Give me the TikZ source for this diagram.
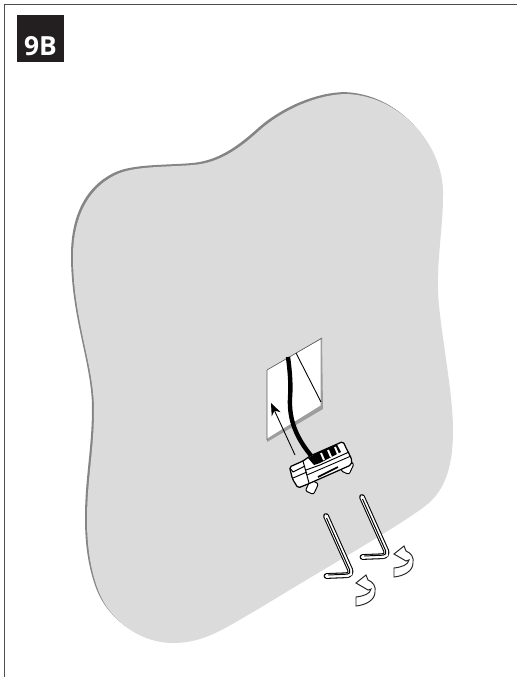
\documentclass[tikz,border=0pt]{standalone}
\usepackage{fontspec}
\setsansfont{Open Sans}
\usepackage{tikz}
\usetikzlibrary{arrows.meta}
\usetikzlibrary{positioning}

\definecolor{wallgrey}{HTML}{DBDBDB}
\definecolor{walledge}{HTML}{858585}
\definecolor{labelblack}{HTML}{231F20}

\def\wallpath{(347,94)
        .. controls (400,96) and (445,145) .. (443,197)
        .. controls (443,225) and (437,260) .. (438,290)
        .. controls (439,325) and (453,390) .. (453,430)
        .. controls (453,460) and (448,485) .. (430,502)
        .. controls (410,520) and (330,565) .. (260,608)
        .. controls (225,628) and (205,643) .. (173,643)
        .. controls (140,643) and (108,620) .. (97,587)
        .. controls (90,567) and (87,545) .. (87,520)
        .. controls (87,480) and (94,450) .. (94,410)
        .. controls (94,365) and (73,320) .. (73,257)
        .. controls (73,215) and (90,185) .. (120,173)
        .. controls (138,166) and (170,167) .. (193,165)
        .. controls (220,163) and (240,148) .. (260,130)
        .. controls (285,108) and (320,94) .. (347,94) -- cycle}

\tikzset{
    partline/.style={draw=black,line width=0.55pt,line join=round},
    turnarrow/.style={draw=black!85,fill=white,line width=0.55pt,line join=miter}
}

\begin{document}
\begin{tikzpicture}[x=0.02cm,y=-0.02cm]
        \useasboundingbox (0,0) rectangle (517,677);

        % frame, open to the right and the bottom
        \draw[black!70,line width=0.8pt] (4.5,677) -- (4.5,4.5) -- (517,4.5);
        \node[fill=labelblack,text=white,font=\sffamily\bfseries\fontsize{15}{16}\selectfont,
            minimum width=0.94cm,minimum height=0.94cm,inner sep=0pt,
            text depth=0pt,anchor=center] (steplabel) at (40.5,38.5) {\raisebox{-0.3cm}{9B}};

        % wall
        \fill[walledge,shift={(-2,-1.9)}] \wallpath;
        \fill[wallgrey] \wallpath;

        % opening in the wall
        \fill[walledge!80] (267,370) -- (322,338) -- (323,409) -- (267,442) -- cycle;
        \fill[white] (267,370) -- (320.5,339.5) -- (320.5,405.5) -- (267,438.5) -- cycle;
        \draw[black!65,line width=0.35pt] (267,440) -- (267,370) -- (322,338);
        \draw[black,line width=0.5pt] (296,353) -- (321,402);

        % cable
        \draw[black,line width=2.5pt]
        (288,357)
        .. controls (290,372) and (291,385) .. (290,398)
        .. controls (289,420) and (296,438) .. (313,458);

        % push arrow
        \coordinate (pushstart) at (295,455);
        \coordinate (pushtip) at (271,403);
        \draw[black,line width=0.5pt,-{Stealth[length=7pt,width=5.5pt]}] (pushstart) -- (pushtip);

        % mounting plate
        \draw[partline,fill=white,rounded corners=1.2pt,rotate around={-25:(311.5,487)}] (307.5,481) rectangle (316.5,493);
        \draw[partline,fill=white,rounded corners=1.2pt,rotate around={-25:(347,467)}] (343,461) rectangle (352,473);
        \draw[partline,fill=white,line width=0.7pt,rounded corners=1pt]
        (289.5,467) -- (303,461) -- (310,456) -- (343,441.5) -- (352,460) -- (351,465)
        -- (308,484) -- (298,488) -- (292.5,479) -- cycle;
        \fill[black] (308,458) -- (317,453) -- (337,444.5) -- (341,452) -- (320,463) -- (314,465) -- cycle;
        \draw[white,line width=1.1pt] (321,453) -- (324,460);
        \draw[white,line width=1.1pt] (328,450) -- (331,457);
        \draw[white,line width=1.1pt] (335,447) -- (338,454);
        \draw[partline] (290,468) -- (293,472) -- (305,466);
        \draw[partline] (303,461) -- (309,483);
        \draw[partline] (293,478) -- (307,472);
        \draw[partline] (306,470) -- (320,465) -- (349,452);
        \draw[black,line width=0.5pt] (307,475) -- (351,456);
        \draw[black,line width=1pt] (318,477) -- (338,467);

        % hex keys and their turn arrows
        \foreach \shiftx/\shifty in {0/0,-36/19} {
            \begin{scope}[shift={(\shiftx,\shifty)}]
                \draw[black,line width=3.3pt,rounded corners=3.5pt,line cap=round] (362,497) -- (388.5,556) -- (362.5,557);
                \draw[white,line width=2.1pt,rounded corners=3pt,line cap=round] (362,497) -- (388.5,556) -- (362.5,557);
                \draw[black,line width=0.55pt,rounded corners=2.5pt] (362.5,499) -- (387.5,555) -- (364,556);
            \end{scope}
        }
        \foreach \shiftx/\shifty in {0/0,-38/29} {
            \begin{scope}[shift={(\shiftx,\shifty)}]
                \draw[turnarrow]
                (394,568)
                .. controls (402,567) and (408,565) .. (409,560)
                -- (406,561) -- (394,554) -- (404,546) -- (406,551)
                .. controls (411,553) and (414,557) .. (413,563)
                .. controls (413,571) and (404,576) .. (394,577) -- cycle;
            \end{scope}
        }
    \end{tikzpicture}
\end{document}
